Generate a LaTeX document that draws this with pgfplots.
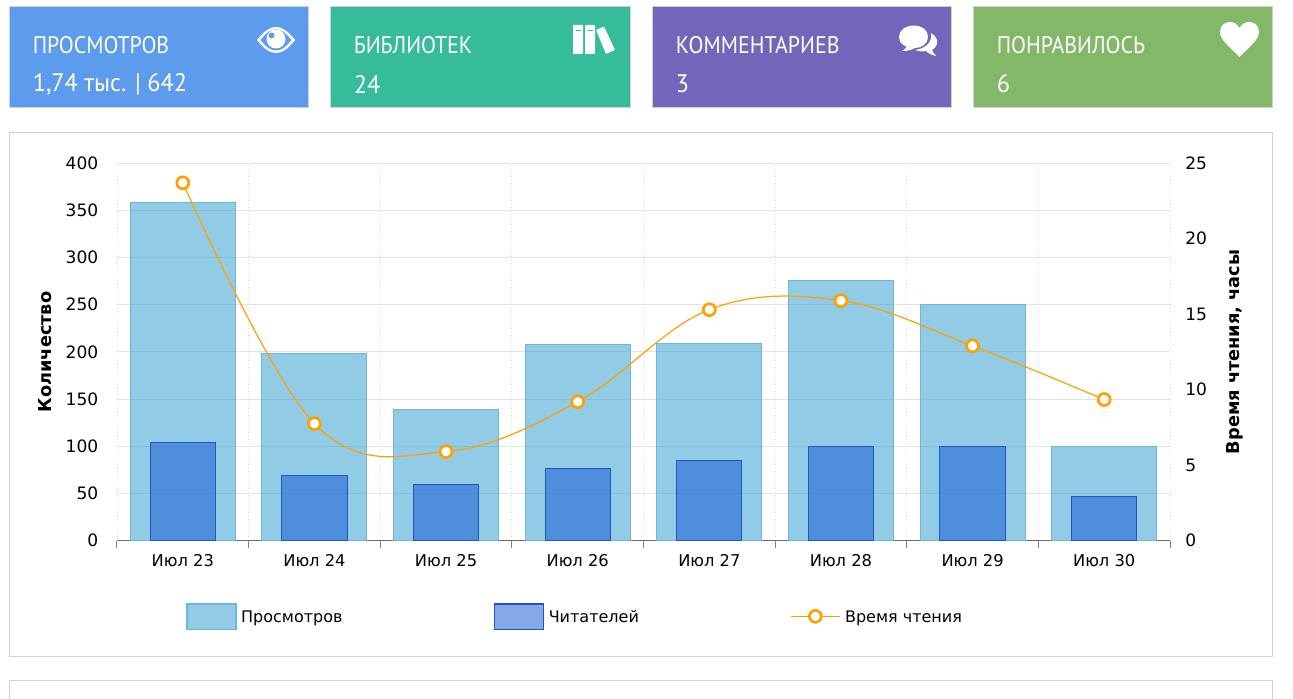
\documentclass[border=0pt]{standalone}
\usepackage{fontspec}
\usepackage{pgfplots}
\pgfplotsset{compat=1.18}
\setmainfont{DejaVu Sans}
\newfontfamily\cardfont{PT Sans}[FakeStretch=0.91]
\newfontfamily\cardvalfont{PT Sans}[FakeStretch=0.96]
\newfontfamily\labelfont{DejaVu Sans}

\definecolor{cblue}{RGB}{93,156,236}
\definecolor{cteal}{RGB}{55,188,155}
\definecolor{cpurple}{RGB}{114,102,186}
\definecolor{cgreen}{RGB}{131,184,104}
\definecolor{cframe}{RGB}{208,208,208}
\definecolor{viewsc}{RGB}{39,153,205}
\definecolor{viewsl}{RGB}{107,184,220}
\definecolor{readc}{RGB}{13,83,209}
\definecolor{readl}{RGB}{30,86,196}
\definecolor{timec}{RGB}{255,160,0}
\definecolor{gridc}{RGB}{226,226,226}

\newcommand{\card}[5]{% x0, x1, colour, title, value
  \fill[#3,draw=cframe,line width=0.75pt] (#1,6.5) rectangle (#2,108);
  \node[anchor=west,inner sep=0,text=white,font=\cardfont\fontsize{18pt}{20pt}\selectfont] at (#1+23,45) {#4};
  \node[anchor=west,inner sep=0,text=white,font=\cardvalfont\fontsize{19pt}{21pt}\selectfont] at (#1+23,84) {#5};
}

\begin{document}
\begin{tikzpicture}
\begin{scope}[x=0.75pt,y=-0.75pt]
  \path[use as bounding box] (0,0) rectangle (1293,699);
  \fill[white] (0,0) rectangle (1293,699);
  \draw[cframe,line width=0.75pt] (9.5,132.5) rectangle (1272.5,656.5);
  \draw[cframe,line width=0.75pt] (9.5,699) -- (9.5,680.5) -- (1272.5,680.5) -- (1272.5,699);
  \card{9.5}{308.5}{cblue}{ПРОСМОТРОВ}{1,74 тыс. | 642}
  \card{330.5}{630.5}{cteal}{БИБЛИОТЕК}{24}
  \card{652.5}{951.5}{cpurple}{КОММЕНТАРИЕВ}{3}
  \card{973.5}{1272.5}{cgreen}{ПОНРАВИЛОСЬ}{6}
  % eye
  \fill[white] (257,40) .. controls (265,30) and (270,27) .. (276,27) .. controls (282,27) and (287,30) .. (295,40)
     .. controls (287,50) and (282,53) .. (276,53) .. controls (270,53) and (265,50) .. (257,40) -- cycle;
  \fill[cblue] (260.5,40) .. controls (267,32) and (271,29.5) .. (276,29.5) .. controls (281,29.5) and (285,32) .. (291.5,40)
     .. controls (285,48) and (281,50.5) .. (276,50.5) .. controls (271,50.5) and (267,48) .. (260.5,40) -- cycle;
  \fill[white] (276,39) circle (9.5);
  \fill[cblue] (271.5,35.5) circle (3);
  % books
  \fill[white,rounded corners=0.7pt] (573,25) rectangle (583,54);
  \fill[white,rounded corners=0.7pt] (585,25) rectangle (595,54);
  \fill[white,rounded corners=0.7pt] (596,30) -- (604,26.5) -- (615,50) -- (606,54) -- cycle;
  \fill[cteal] (575.5,30) rectangle (580.5,31.5);
  \fill[cteal] (587.5,30) rectangle (592.5,31.5);
  % chat
  \fill[white] (917,47) .. controls (906,49) and (899,44) .. (899,37) .. controls (899,30) and (906,25.5) .. (914,25.5)
     .. controls (922,25.5) and (928,30) .. (928,37) .. controls (928,44) and (921,48) .. (915,48)
     .. controls (911,50) and (908,51) .. (902,51) .. controls (905,49) and (906,48) .. (907,46) -- cycle;
  \fill[white] (931,33) .. controls (936,36) and (938,40) .. (937,44) .. controls (936,47) and (934,49) .. (932,50)
     .. controls (933,52) and (934,54) .. (936,56) .. controls (931,55) and (928,53) .. (926,51)
     .. controls (922,52) and (918,51) .. (915,50) .. controls (924,49) and (933,43) .. (931,33) -- cycle;
  % heart
  \fill[white] (1239.5,57) .. controls (1230,47) and (1220,40) .. (1220,32) .. controls (1220,25) and (1225,22) .. (1230,22)
     .. controls (1234,22) and (1237,24) .. (1239.5,28) .. controls (1242,24) and (1245,22) .. (1249,22)
     .. controls (1254,22) and (1259,25) .. (1259,32) .. controls (1259,40) and (1249,47) .. (1239.5,57) -- cycle;
\end{scope}

\begin{axis}[
    at={(87.75pt,-405.5pt)}, anchor=south west,
    scale only axis, width=789.75pt, height=283.1pt,
    xmin=-0.5, xmax=7.5, ymin=0, ymax=400,
    ytick={0,50,...,400},
    xtick={0,...,7},
    xticklabels={Июл 23,Июл 24,Июл 25,Июл 26,Июл 27,Июл 28,Июл 29,Июл 30},
    minor xtick={-0.5,0.5,...,7.5},
    axis x line*=bottom, axis y line*=left,
    x axis line style={draw=gray!85!black,line width=0.75pt},
    y axis line style={draw=none},
    tick align=outside,
    major tick length=0pt,
    minor tick length=5.6pt,
    xtick style={draw=gray,line width=0.75pt},
    ytick style={draw=none},
    ymajorgrids, xminorgrids,
    major grid style={draw=gridc,line width=0.75pt},
    minor grid style={draw=gray!30,line width=0.6pt,dotted},
    /pgf/number format/assume math mode=true,
    xticklabel style={yshift=-7pt,font=\fontsize{12.2pt}{13pt}\selectfont},
    yticklabel style={xshift=-10.5pt,font=\fontsize{12.8pt}{14pt}\selectfont},
    ylabel={\labelfont\bfseries\fontsize{13.3pt}{15pt}\selectfont Количество},
    ylabel style={at={(axis description cs:-0.0685,0.5)},anchor=center,rotate=0},
    clip=false,
]
  \addplot[ybar, bar width=78.75pt, bar shift=0pt, fill=viewsc, fill opacity=0.5, draw=viewsl, line width=0.75pt] coordinates {
    (0,358) (1,198) (2,139) (3,208) (4,209) (5,276) (6,250) (7,100)
  };
  \addplot[ybar, bar width=49pt, bar shift=0pt, fill=readc, fill opacity=0.5, draw=readl, line width=0.75pt] coordinates {
    (0,104) (1,69) (2,60) (3,77) (4,85) (5,100) (6,100) (7,47)
  };
\end{axis}

\begin{axis}[
    at={(87.75pt,-405.5pt)}, anchor=south west,
    scale only axis, width=789.75pt, height=283.1pt,
    xmin=-0.5, xmax=7.5, ymin=0, ymax=25,
    ytick={0,5,...,25},
    axis x line=none,
    axis y line*=right,
    y axis line style={draw=none},
    ytick style={draw=none},
    major tick length=0pt,
    /pgf/number format/assume math mode=true,
    yticklabel style={xshift=8pt,font=\fontsize{12.8pt}{14pt}\selectfont},
    ylabel={\labelfont\bfseries\fontsize{13.3pt}{15pt}\selectfont Время чтения, часы},
    ylabel style={at={(axis description cs:1.0615,0.5)},anchor=center,rotate=0},
    clip=false,
    legend style={draw=none, fill=none, at={(0.0655,-0.2013)}, anchor=west, inner sep=0pt,
      font=\fontsize{12pt}{13pt}\selectfont,
      /tikz/every even column/.append style={column sep=111.5pt}},
    legend columns=3,
    legend cell align=left,
]
  \addlegendimage{legend image code/.code={
    \fill[viewsc,fill opacity=0.5] (0pt,-8.75pt) rectangle (36.75pt,10.25pt);
    \draw[viewsl,line width=1pt] (0pt,-8.75pt) rectangle (36.75pt,10.25pt);
    \path (38.5pt,0pt);}}
  \addlegendentry{Просмотров}
  \addlegendimage{legend image code/.code={
    \fill[readc,fill opacity=0.5] (0pt,-8.75pt) rectangle (36.75pt,10.25pt);
    \draw[readl,line width=1pt] (0pt,-8.75pt) rectangle (36.75pt,10.25pt);
    \path (38.5pt,0pt);}}
  \addlegendentry{Читателей}
  \addlegendimage{legend image code/.code={
    \draw[timec,line width=0.9pt] (0pt,1pt) -- (36.75pt,1pt);
    \filldraw[draw=timec,fill=white,line width=2pt] (18.4pt,1pt) circle (4.5pt);
    \path (38.5pt,0pt);}}
  \addlegendentry{Время чтения}
  \addplot[timec, line width=0.9pt, smooth, tension=0.62,
      mark=*, mark size=4.5pt, mark options={fill=white,draw=timec,line width=2pt}] coordinates {
    (0,23.7) (1,7.75) (2,5.9) (3,9.2) (4,15.3) (5,15.9) (6,12.9) (7,9.35)
  };
\end{axis}
\end{tikzpicture}
\end{document}
